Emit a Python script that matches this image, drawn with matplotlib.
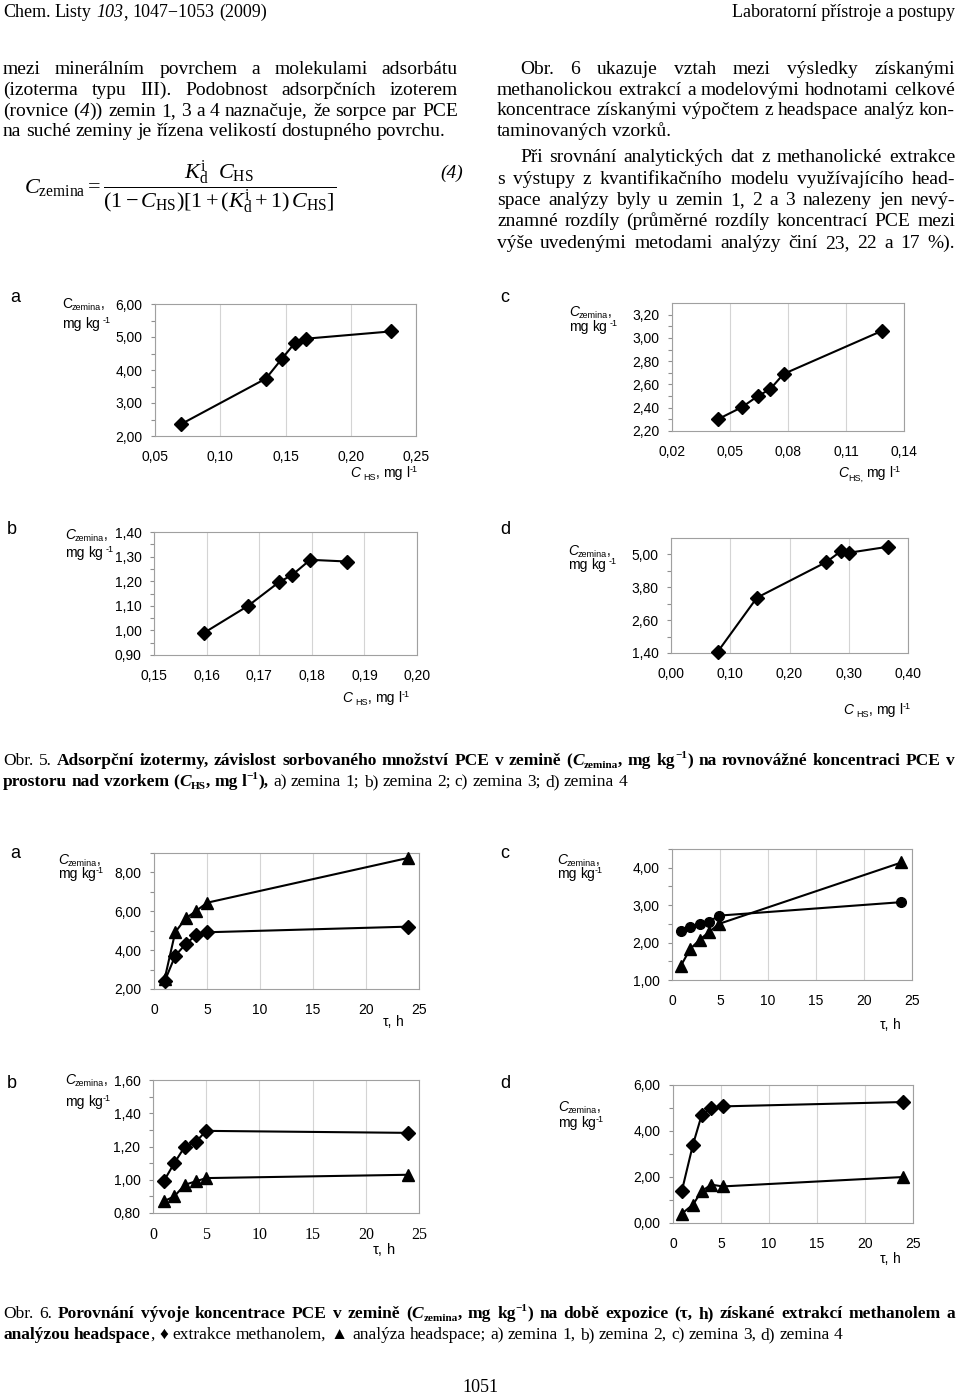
"""Obr. 5 a Obr. 6 - strana 1051, Chem. Listy 103 (2009)."""
import numpy as np
import matplotlib
matplotlib.use("Agg")
import matplotlib.pyplot as plt
from matplotlib.ticker import FixedLocator, FuncFormatter

W, H = 960, 1397
SERIF = ["Liberation Serif", "DejaVu Serif", "DejaVu Sans"]
SANS = ["Liberation Sans", "DejaVu Sans"]

# Obr. 5 - adsorpcni izotermy: C_HS (mg/l) -> C_zemina (mg/kg)
iso_a_chs = [0.070, 0.135, 0.147, 0.157, 0.166, 0.231]
iso_a_cz = [2.36, 3.74, 4.33, 4.81, 4.95, 5.17]
iso_b_chs = [0.1595, 0.1679, 0.1737, 0.1763, 0.1797, 0.1867]
iso_b_cz = [0.99, 1.10, 1.195, 1.226, 1.287, 1.280]
iso_c_chs = [0.0436, 0.0562, 0.0644, 0.0708, 0.0777, 0.1285]
iso_c_cz = [2.30, 2.405, 2.50, 2.56, 2.69, 3.06]
iso_d_chs = [0.079, 0.145, 0.262, 0.287, 0.300, 0.366]
iso_d_cz = [1.45, 3.42, 4.72, 5.12, 5.06, 5.28]

# Obr. 6 - methanol (extrakce) vs headspace v case tau (h)
tau = [1, 2, 3, 4, 5, 24]
meoh_a = [2.39, 3.71, 4.32, 4.79, 4.92, 5.21]
hs_a = [2.51, 4.92, 5.64, 6.03, 6.44, 8.75]
meoh_b = [0.99, 1.10, 1.20, 1.226, 1.294, 1.282]
hs_b = [0.87, 0.90, 0.97, 0.99, 1.01, 1.03]
tau_c = [0.9, 1.9, 2.9, 3.85, 4.9, 23.9]
meoh_c = [2.32, 2.42, 2.50, 2.56, 2.72, 3.08]
hs_c = [1.37, 1.83, 2.08, 2.28, 2.50, 4.14]
tau_d = [0.93, 2.08, 2.98, 3.98, 5.16, 24.0]
meoh_d = [1.41, 3.41, 4.68, 5.00, 5.07, 5.26]
hs_d = [0.41, 0.80, 1.38, 1.67, 1.59, 2.00]

plt.rcParams.update({
    "font.family": SERIF,
    "mathtext.fontset": "custom",
    "mathtext.rm": "Liberation Serif",
    "mathtext.it": "Liberation Serif:italic",
    "mathtext.bf": "Liberation Serif:bold",
})

fig = plt.figure(figsize=(W / 100, H / 100), dpi=100)
R = fig.canvas.get_renderer()
BODY, CAP = 14, 12.5


def _split(segments):
    words, new = [], True
    for txt, fl in segments:
        for i, p in enumerate(txt.split(" ")):
            if i > 0:
                new = True
            if p == "":
                continue
            if new or not words:
                words.append([])
                new = False
            words[-1].append((p, fl))
    return words


def line(x0, y, segments, size=BODY, family=SERIF, x1=None, sub=0.2, sup=0.4):
    """Draw one text line of styled runs; justify to x1 if given (pixels)."""
    built = []
    for word in _split(segments):
        objs = []
        for txt, fl in word:
            sz, dy = size, 0.0
            if "^" in fl:
                sz, dy = size * 0.65, -size * sup * 100 / 72
            elif "_" in fl:
                sz, dy = size * 0.65, size * sub * 100 / 72
            t = fig.text(0, 0, txt, va="baseline", ha="left", fontsize=sz, family=family,
                         fontweight="bold" if "b" in fl else "normal",
                         fontstyle="italic" if "i" in fl else "normal")
            objs.append((t, t.get_window_extent(R).width, dy))
        built.append(objs)
    total = sum(w for objs in built for _, w, _ in objs)
    gap = size * 0.25 * 100 / 72
    if x1 is not None and len(built) > 1:
        gap = (x1 - x0 - total) / (len(built) - 1)
    x = x0
    for objs in built:
        for t, w, dy in objs:
            t.set_position((x / W, 1 - (y + dy) / H))
            x += w
        x += gap


def fmt2(v, _):
    return f"{v:.2f}".replace(".", ",")


def fmt0(v, _):
    return f"{v:.0f}"


def chart(box, series, xlim, xticks, xfmt, ylim, yticks, yminor, xfamily=SANS):
    l, t, r, b = box
    ax = fig.add_axes([l / W, 1 - b / H, (r - l) / W, (b - t) / H])
    for x, y, m, ms in series:
        ax.plot(x, y, color="black", lw=1.5, marker=m, ms=ms, mfc="black", mec="black",
                clip_on=False, zorder=3)
    ax.set_xlim(*xlim)
    ax.set_ylim(*ylim)
    ax.xaxis.set_major_locator(FixedLocator(xticks))
    ax.yaxis.set_major_locator(FixedLocator(yticks))
    ax.yaxis.set_minor_locator(FixedLocator(yminor))
    ax.xaxis.set_major_formatter(FuncFormatter(xfmt))
    ax.yaxis.set_major_formatter(FuncFormatter(fmt2))
    ax.tick_params(axis="y", which="both", direction="out", length=3, width=0.8,
                   color="#909090", labelsize=10, pad=6, labelfontfamily=SANS)
    ax.tick_params(axis="x", length=0, labelsize=10, pad=10, labelfontfamily=xfamily)
    if xfamily is SERIF:
        ax.tick_params(axis="x", labelsize=11.5)
    ax.grid(axis="x", color="#d4d4d4", lw=0.8)
    ax.set_axisbelow(True)
    for s in ax.spines.values():
        s.set_color("#a0a0a0")
        s.set_linewidth(0.8)
    return ax


def ylab(x, y1, y2, upright=False, space=True):
    line(x, y1, [("C", "" if upright else "i"), ("zemina", "_"), (",", "")],
         size=10, family=SANS, sub=0.12)
    line(x, y2, [("mg kg", ""), ((" " if space else "") + "-1", "^")],
         size=10, family=SANS, sup=0.35)


def xlab_chs(x, y, comma_sub=False):
    line(x, y, [("C", "i"), (" HS" if not comma_sub else "HS,", "_"),
                (", mg l" if not comma_sub else " mg l", ""), ("-1", "^")],
         size=10, family=SANS, sub=0.25, sup=0.35)


def panel(x, y, s):
    fig.text(x / W, 1 - y / H, s, ha="left", va="center", fontsize=13, family=SANS)


# ---------- text of the page ----------
line(3, 17, [("Chem. Listy ", ""), ("103", "i"), (", 1047−1053 (2009)", "")], size=13)
fig.text(955 / W, 1 - 17 / H, "Laboratorní přístroje a postupy", ha="right", va="baseline",
         fontsize=13)

line(3, 74, [("mezi minerálním povrchem a molekulami adsorbátu", "")], x1=458)
line(3, 95, [("(izoterma typu III). Podobnost adsorpčních izoterem", "")], x1=458)
line(3, 116, [("(rovnice (", ""), ("4", "i"), (")) zemin 1, 3 a 4 naznačuje, že sorpce par PCE", "")], x1=458)
line(3, 136, [("na suché zeminy je řízena velikostí dostupného povrchu.", "")])

fig.text(180 / W, 1 - 188 / H,
         r"$C_{\rm zemina} = \dfrac{K^{\rm i}_{\rm d}\ \ C_{\rm HS}}"
         r"{(1-C_{\rm HS})[1+(K^{\rm i}_{\rm d}+1)\,C_{\rm HS}]}$",
         ha="center", va="center", fontsize=16)
fig.text(440 / W, 1 - 173 / H, "(4)", ha="left", va="center", fontsize=BODY, fontstyle="italic")

right = [
    (520, 74, "Obr. 6 ukazuje vztah mezi výsledky získanými", True),
    (497, 95, "methanolickou extrakcí a modelovými hodnotami celkové", True),
    (497, 115, "koncentrace získanými výpočtem z headspace analýz kon-", True),
    (497, 136, "taminovaných vzorků.", False),
    (520, 162, "Při srovnání analytických dat z methanolické extrakce", True),
    (497, 184, "s výstupy z kvantifikačního modelu využívajícího head-", True),
    (497, 205, "space analýzy byly u zemin 1, 2 a 3 nalezeny jen nevý-", True),
    (497, 226, "znamné rozdíly (průměrné rozdíly koncentrací PCE mezi", True),
    (497, 248, "výše uvedenými metodami analýzy činí 23, 22 a 17 %).", True),
]
for x0, y, s, just in right:
    line(x0, y, [(s, "")], x1=955 if just else None)

# ---------- Obr. 5 ----------
panel(10, 298, "a")
chart((155, 304, 416, 436), [(iso_a_chs, iso_a_cz, "D", 7)],
      (0.05, 0.25), np.arange(0.05, 0.251, 0.05), fmt2,
      (2, 6), np.arange(2, 6.01, 1), np.arange(2.5, 6, 1))
ylab(62, 308, 328, upright=True)
xlab_chs(350, 477)

panel(500, 298, "c")
chart((672, 303, 904, 431), [(iso_c_chs, iso_c_cz, "D", 7)],
      (0.02, 0.14), np.arange(0.02, 0.141, 0.03), fmt2,
      (2.2, 3.3), np.arange(2.2, 3.21, 0.2), np.arange(2.3, 3.3, 0.2))
ylab(569, 316, 331)
xlab_chs(838, 477, comma_sub=True)

panel(7, 530, "b")
chart((154, 532, 417, 655), [(iso_b_chs, iso_b_cz, "D", 7)],
      (0.15, 0.20), np.arange(0.15, 0.201, 0.01), fmt2,
      (0.9, 1.4), np.arange(0.9, 1.401, 0.1), np.arange(0.95, 1.4, 0.1))
ylab(65, 539, 557)
xlab_chs(342, 702)

panel(500, 530, "d")
chart((671, 538, 908, 653), [(iso_d_chs, iso_d_cz, "D", 7)],
      (0.0, 0.4), np.arange(0, 0.401, 0.1), fmt2,
      (1.4, 5.6), np.arange(1.4, 5.01, 1.2), np.arange(2.0, 5.6, 1.2))
ylab(568, 555, 569)
xlab_chs(843, 714)

line(3, 765, [("Obr. 5. ", ""),
              ("Adsorpční izotermy, závislost sorbovaného množství PCE v zemině (", "b"),
              ("C", "bi"), ("zemina", "b_"), (", mg kg", "b"), ("−1", "b^"),
              (") na rovnovážné koncentraci PCE v", "b")], size=CAP, x1=955)
line(3, 786, [("prostoru nad vzorkem (", "b"), ("C", "bi"), ("HS", "b_"), (", mg l", "b"),
              ("−1", "b^"), ("),", "b"),
              (" a) zemina 1; b) zemina 2; c) zemina 3; d) zemina 4", "")], size=CAP)

# ---------- Obr. 6 ----------
panel(10, 853, "a")
chart((154, 853, 419, 989), [(tau, hs_a, "^", 9), (tau, meoh_a, "D", 7)],
      (0, 25), np.arange(0, 26, 5), fmt0,
      (2, 9), np.arange(2, 8.01, 2), np.arange(3, 9.01, 2))
ylab(58, 864, 878, space=False)
line(383, 1026, [("τ, h", "")], size=10, family=SANS)

panel(500, 853, "c")
chart((672, 849, 912, 980), [(tau_c, hs_c, "^", 9), (tau_c, meoh_c, "o", 7)],
      (0, 25), np.arange(0, 26, 5), fmt0,
      (1, 4.5), np.arange(1, 4.01, 1), np.arange(1.5, 4.51, 1))
ylab(557, 864, 878, space=False)
line(880, 1029, [("τ, h", "")], size=10, family=SANS)

panel(7, 1084, "b")
chart((153, 1080, 419, 1213), [(tau, hs_b, "^", 9), (tau, meoh_b, "D", 7)],
      (0, 25), np.arange(0, 26, 5), fmt0,
      (0.8, 1.6), np.arange(0.8, 1.601, 0.2), np.arange(0.9, 1.6, 0.2), xfamily=SERIF)
ylab(65, 1084, 1106, space=False)
line(373, 1254, [("τ, h", "")], size=10.5, family=SANS)

panel(500, 1083, "d")
chart((673, 1085, 913, 1223), [(tau_d, hs_d, "^", 9), (tau_d, meoh_d, "D", 7)],
      (0, 25), np.arange(0, 26, 5), fmt0,
      (0, 6), np.arange(0, 6.01, 2), np.arange(1, 6, 2))
ylab(558, 1111, 1127, space=False)
line(880, 1263, [("τ, h", "")], size=10, family=SANS)

line(3, 1318, [("Obr. 6. ", ""),
               ("Porovnání vývoje koncentrace PCE v zemině (", "b"),
               ("C", "bi"), ("zemina", "b_"), (", mg kg", "b"), ("−1", "b^"),
               (") na době expozice (τ, h) získané extrakcí methanolem a", "b")], size=CAP, x1=955)
line(3, 1339, [("analýzou headspace", "b"),
               (", ♦ extrakce methanolem, ▲ analýza headspace; a) zemina 1, b) zemina 2, "
                "c) zemina 3, d) zemina 4", "")], size=CAP)

fig.text(480 / W, 1 - 1388 / H, "1051", ha="center", va="center", fontsize=13)

fig.savefig("out.png", dpi=100)
